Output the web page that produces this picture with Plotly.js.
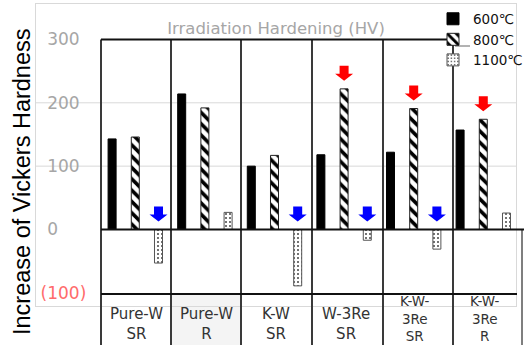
<!DOCTYPE html>
<html>
<head>
<meta charset="utf-8">
<script src="https://cdn.plot.ly/plotly-3.0.1.min.js"></script>
<style>html,body{margin:0;padding:0;background:#fff;}#chart{width:524px;height:345px;}</style>
</head>
<body>
<div id="chart"></div>
<script>
// ---- data ----
const categories = ['Pure-W<br>SR', 'Pure-W<br>R', 'K-W<br>SR', 'W-3Re<br>SR', 'K-W-<br>3Re<br>SR', 'K-W-<br>3Re<br>R'];
const seriesNames = ['600℃', '800℃', '1100℃'];
const hv600 = [143, 214, 100, 118, 122, 157];
const hv800 = [146, 192, 117, 222, 191, 174];
const hv1100 = [-53, 27, -89, -17, -31, 26];
const yTickVals = [-100, 0, 100, 200, 300];
const yTickText = ['(100)', '0', '100', '200', '300'];
const gridVals = [100, 200];
const redArrowAt = [3, 4, 5];   // on 800℃ bars
const blueArrowAt = [0, 2, 3, 4]; // on 1100℃ bars
const chartTitle = 'Irradiation Hardening (HV)';
const yTitle = 'Increase of Vickers Hardness';

// ---- geometry helpers (pixels -> paper) ----
const L = 36, R = 516, T = 4, B = 306;
const W = R - L, H = B - T;
const px = p => (p - L) / W;
const py = p => (B - p) / H;

const traces = [
  {type: 'bar', name: seriesNames[0], x: categories, y: hv600,
   marker: {color: '#000', line: {color: '#000', width: 1}}},
  {type: 'bar', name: seriesNames[1], x: categories, y: hv800,
   marker: {color: '#fff', line: {color: '#222', width: 1},
            pattern: {shape: '\\', fgcolor: '#000', bgcolor: '#fff', size: 8, solidity: 0.45}}},
  {type: 'bar', name: seriesNames[2], x: categories, y: hv1100,
   marker: {color: '#fff', line: {color: '#555', width: 1},
            pattern: {shape: '.', fgcolor: '#444', bgcolor: '#fff', size: 4, solidity: 0.2}}}
];

const shapes = [];
// light gridlines
gridVals.forEach(v => shapes.push({type: 'line', xref: 'paper', yref: 'y', x0: 0, x1: 1, y0: v, y1: v,
  line: {color: '#d9d9d9', width: 1}, layer: 'below'}));
// grey background of second label cell
shapes.push({type: 'rect', xref: 'paper', yref: 'paper', x0: px(171), x1: px(241), y0: py(350), y1: py(294),
  fillcolor: '#f4f4f4', line: {width: 0}, layer: 'below'});
// table grid lines
[101, 171, 241, 312, 383, 453].forEach(xp => shapes.push({type: 'line', xref: 'paper', yref: 'paper',
  x0: px(xp), x1: px(xp), y0: py(350), y1: py(39.5), line: {color: '#3a3a3a', width: 2}}));
shapes.push({type: 'line', xref: 'paper', yref: 'paper', x0: px(522), x1: px(522), y0: py(350), y1: py(229.5),
  line: {color: '#555', width: 1.5}});
shapes.push({type: 'line', xref: 'paper', yref: 'paper', x0: px(101), x1: px(453), y0: py(39.5), y1: py(39.5),
  line: {color: '#111', width: 2}});
shapes.push({type: 'line', xref: 'paper', yref: 'paper', x0: px(101), x1: px(524), y0: py(229.5), y1: py(229.5),
  line: {color: '#111', width: 2}});
shapes.push({type: 'line', xref: 'paper', yref: 'paper', x0: px(101), x1: px(517), y0: py(294), y1: py(294),
  line: {color: '#111', width: 2}});
// small line under legend symbol
shapes.push({type: 'line', xref: 'paper', yref: 'paper', x0: px(455), x1: px(470), y0: py(46), y1: py(46),
  line: {color: '#666', width: 1}});

// arrows (pixel-sized, anchored on the bars)
const arrowPath = 'M-4.5,23 L4.5,23 L4.5,15 L9,15 L0,8 L-9,15 L-4.5,15 Z';
redArrowAt.forEach(i => shapes.push({type: 'path', xref: 'x', yref: 'y', xsizemode: 'pixel', ysizemode: 'pixel',
  xanchor: i, yanchor: Math.max(hv800[i], 0), path: arrowPath, fillcolor: '#ff0000', line: {width: 0}}));
blueArrowAt.forEach(i => shapes.push({type: 'path', xref: 'x', yref: 'y', xsizemode: 'pixel', ysizemode: 'pixel',
  xanchor: i + 1/3, yanchor: Math.max(hv1100[i], 0), path: arrowPath, fillcolor: '#0000ff', line: {width: 0}}));

const annotations = categories.map((c, i) => {
  const lines = c.split('<br>').length;
  return {
    xref: 'x', yref: 'paper', x: i, y: py(lines > 2 ? 318.5 : 323.5), xshift: 1.5, yanchor: 'middle', xanchor: 'center',
    text: c, showarrow: false, font: {family: 'DejaVu Sans, sans-serif', size: lines > 2 ? 13.5 : 15, color: '#333'}
  };
});
annotations.push({xref: 'paper', yref: 'paper', x: px(22), y: py(182), textangle: -90, showarrow: false,
  xanchor: 'center', yanchor: 'middle', text: yTitle,
  font: {family: 'Liberation Sans, Arial, sans-serif', size: 23.5, color: '#000'}});

const tickText = yTickText.map(t => t.startsWith('(')
  ? '<span style="color:#ff6b6b">' + t + '</span>'
  : '<span style="color:rgba(0,0,0,0)">(</span>' + t);

const layout = {
  width: 524, height: 345,
  margin: {l: L, r: 524 - R, t: T, b: 345 - B, pad: 0, autoexpand: false},
  paper_bgcolor: '#fff', plot_bgcolor: '#fff',
  barmode: 'group', bargap: 0, bargroupgap: 0.655,
  showlegend: true,
  title: {text: chartTitle, xref: 'paper', x: px(276), xanchor: 'center', yref: 'container', y: 1 - 28/345, yanchor: 'middle',
          font: {family: 'DejaVu Sans, sans-serif', size: 16.5, color: '#a6a6a6'}},
  legend: {x: px(433), xanchor: 'left', y: py(3.5), yanchor: 'top', bgcolor: 'rgba(0,0,0,0)',
           font: {family: 'DejaVu Sans, sans-serif', size: 13.5, color: '#111'}, traceorder: 'normal'},
  xaxis: {type: 'category', range: [-1.4267, 5.47], showticklabels: false, ticks: '', showgrid: false, zeroline: false,
          showline: true, mirror: true, linecolor: '#d9d9d9', linewidth: 1, fixedrange: true},
  yaxis: {range: [-120.8, 356], tickvals: yTickVals, ticktext: tickText, ticklabelposition: 'inside', ticks: '',
          ticklabelstandoff: 5,
          showgrid: false, zeroline: false, showline: true, mirror: true, linecolor: '#d9d9d9', linewidth: 1,
          tickfont: {family: 'DejaVu Sans, sans-serif', size: 17, color: '#a6a6a6'}, fixedrange: true},
  shapes: shapes,
  annotations: annotations
};

Plotly.newPlot('chart', traces, layout, {displayModeBar: false, staticPlot: true});
</script>
</body>
</html>
